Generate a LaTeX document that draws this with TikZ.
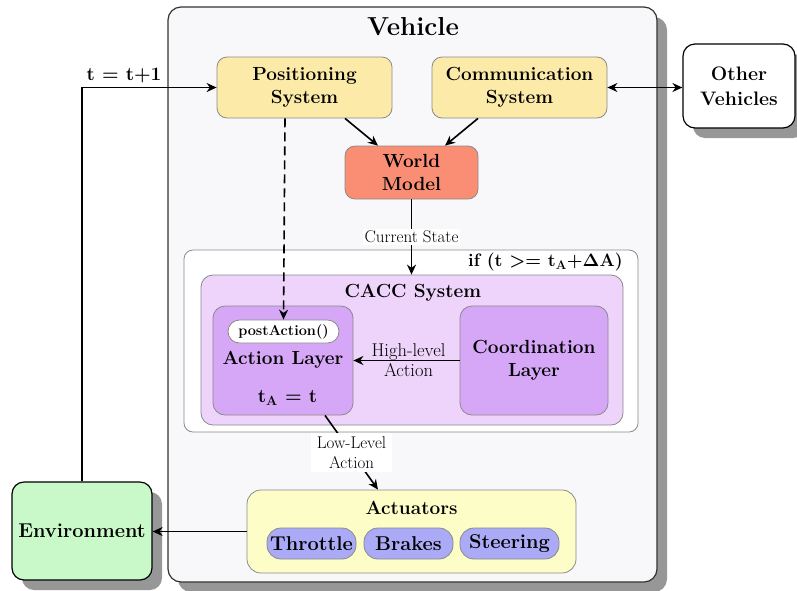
\RequirePackage{fix-cm}
\documentclass[tikz,border=0pt]{standalone}
\usepackage[no-math]{fontspec}
\usetikzlibrary{arrows.meta,shadows,calc}
\definecolor{vehfill}{HTML}{F8F8FA}
\definecolor{yelfill}{HTML}{FBEAA8}
\definecolor{wmfill}{HTML}{F98E75}
\definecolor{caccfill}{HTML}{EED4FA}
\definecolor{layerfill}{HTML}{D5A7F6}
\definecolor{actfill}{HTML}{FDFDC8}
\definecolor{pillfill}{HTML}{AAAAF7}
\definecolor{envfill}{HTML}{C9F8C9}
\definecolor{bordergray}{HTML}{8A8A8A}
\definecolor{shadowgray}{HTML}{979797}
\newcommand{\bfsub}[1]{\ensuremath{_{\mathbf{#1}}}}
\begin{document}
\begin{tikzpicture}[x=1pt,y=-1pt,
  box/.style={draw=bordergray,line width=0.8pt,rounded corners=10pt,inner sep=0pt,align=center,
     font=\fontsize{19}{23}\selectfont\bfseries},
  shad/.style={drop shadow={shadow xshift=10pt,shadow yshift=-10pt,fill=shadowgray,opacity=1}},
  pill/.style={draw=bordergray,line width=0.8pt,rounded corners=14pt,inner sep=0pt,fill=pillfill,
     font=\fontsize{20}{24}\selectfont\bfseries},
  arr/.style={line width=1.6pt,-{Stealth[length=10pt,width=9pt]}},
  lbl/.style={font=\fontsize{17}{20}\selectfont,align=center,inner sep=2pt}]
\useasboundingbox (0,0) rectangle (797,590);
% Vehicle
\node[box,shad,draw=black!80,line width=1.2pt,fill=vehfill,rounded corners=13pt,minimum width=489pt,minimum height=575pt] (veh) at (412.5,294.5) {};
\node[font=\fontsize{26}{30}\selectfont\bfseries] (vehtitle) at (413,27) {Vehicle};
% top boxes
\node[box,fill=yelfill,minimum width=175pt,minimum height=61pt] (pos) at (304.5,87.5) {Positioning\\System};
\node[box,fill=yelfill,minimum width=175pt,minimum height=61pt] (com) at (519.5,87.5) {Communication\\System};
\node[box,shad,draw=black,line width=1.2pt,fill=white,rounded corners=12pt,minimum width=112pt,minimum height=84pt,font=\fontsize{19.5}{25}\selectfont\bfseries] (oth) at (739,86) {Other\\Vehicles};
\node[box,fill=wmfill,minimum width=133pt,minimum height=53pt] (wm) at (411.5,172.5) {World\\Model};
% if box
\node[box,fill=white,rounded corners=9pt,minimum width=454pt,minimum height=182pt] (ifb) at (411,341) {};
\node[anchor=east,font=\fontsize{18}{23}\selectfont\bfseries\boldmath,inner sep=0pt] (iftxt) at (623,262) {if (t ${>}{=}$ t\bfsub{A}+$\mathbf{\Delta}$A)};
\node[box,fill=caccfill,rounded corners=12pt,minimum width=422pt,minimum height=150pt] (cacc) at (412,350) {};
\node[font=\fontsize{19}{23}\selectfont\bfseries] (cacctitle) at (413,293) {CACC System};
\node[box,fill=layerfill,rounded corners=12pt,minimum width=140pt,minimum height=109pt] (al) at (283,360.5) {};
\node[box,fill=white,rounded corners=11.5pt,minimum width=111pt,minimum height=23pt,font=\fontsize{14.5}{16}\selectfont\bfseries] (post) at (283.5,331.5) {postAction()};
\node[font=\fontsize{19}{23}\selectfont\bfseries] (altxt) at (283,360) {Action Layer};
\node[font=\fontsize{19}{23}\selectfont\bfseries\boldmath] (ta) at (287.5,398) {t\bfsub{A} = t};
\node[box,fill=layerfill,rounded corners=12pt,minimum width=148pt,minimum height=109pt] (coord) at (534,360.5) {Coordination\\Layer};
% actuators
\node[box,fill=actfill,rounded corners=14pt,minimum width=329pt,minimum height=83pt] (act) at (411.5,531.5) {};
\node[font=\fontsize{19}{23}\selectfont\bfseries] (acttitle) at (411.5,508) {Actuators};
\node[pill,minimum width=89pt,minimum height=31pt] (thr) at (311.5,543.5) {Throttle};
\node[pill,minimum width=89pt,minimum height=31pt] (brk) at (408.5,543.5) {Brakes};
\node[pill,minimum width=99pt,minimum height=31pt] (ste) at (509.5,543.5) {Steering};
% environment
\node[box,shad,draw=black,line width=1.2pt,fill=envfill,rounded corners=12pt,minimum width=140pt,minimum height=98pt,font=\fontsize{20}{24}\selectfont\bfseries] (env) at (82,531) {Environment};
% connectors
\draw[arr] ($(pos.south)+(40.5,0)$) -- ($(wm.north)+(-33.5,0)$);
\draw[arr] ($(com.south)+(-41.5,0)$) -- ($(wm.north)+(33.5,0)$);
\draw[arr,dash pattern=on 9pt off 5pt] ($(pos.south)+(-19.5,0)$) -- (post.north);
\draw[line width=1.6pt,{Stealth[length=10pt,width=9pt]}-{Stealth[length=10pt,width=9pt]}] (com.east) -- (oth.west |- com.east);
\draw[arr] (wm.south) -- node[lbl,fill=white,pos=0.5] (cs) {Current State} (cacc.north -| wm.south);
\draw[arr] (coord.west) -- node[lbl,font=\fontsize{18.5}{20}\selectfont,xshift=2pt] (hl) {High-level\\Action} (al.east);
\draw[arr] ($(al.south)+(42,0)$) -- node[lbl,fill=white,inner xsep=6pt,inner ysep=4pt] (ll) {Low-Level\\Action} ($(act.north)+(-33.5,0)$);
\draw[arr] (act.west) -- (env.east |- act.west);
\draw[arr] (env.north) |- (pos.west);
\node[font=\fontsize{19}{23}\selectfont\bfseries,inner sep=0pt] (tt) at (124,75) {t = t+1};
\end{tikzpicture}
\end{document}
